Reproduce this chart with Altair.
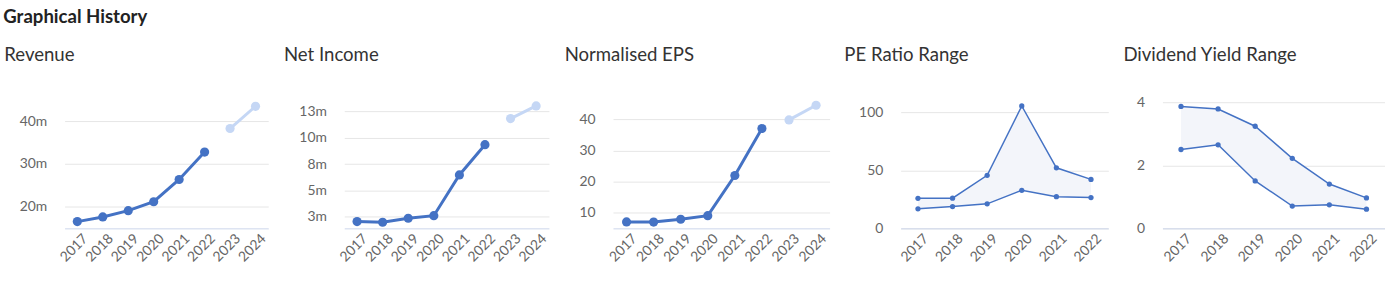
import altair as alt
import pandas as pd

years = ["2017", "2018", "2019", "2020", "2021", "2022", "2023", "2024"]
hist_years = ["2017", "2018", "2019", "2020", "2021", "2022"]

revenue = [16.39, 17.49, 18.97, 21.08, 26.33, 32.8]
revenue_fc = [38.36, 43.6]
net_income = [2.06, 2.0, 2.38, 2.62, 6.49, 9.36]
net_income_fc = [11.84, 13.04]
eps = [7.03, 6.98, 7.9, 9.04, 21.94, 37.03]
eps_fc = [39.8, 44.5]
pe_high = [26.0, 26.1, 45.8, 105.7, 52.3, 42.3]
pe_low = [16.9, 18.8, 21.2, 32.9, 27.4, 26.6]
dy_high = [3.88, 3.80, 3.25, 2.23, 1.41, 0.97]
dy_low = [2.51, 2.66, 1.51, 0.71, 0.75, 0.61]

MAIN = "#4472c4"
LIGHT = "#c5d7f5"
FILL = "#f3f5fa"
FONT = "Lato"
H = 136


def x_enc(cats):
    return alt.X(
        "year:N",
        sort=cats,
        scale=alt.Scale(type="point", padding=0.5, domain=cats),
        axis=alt.Axis(
            title=None, labelAngle=315, labelAlign="right", labelBaseline="middle",
            labelPadding=8, labelOffset=8, ticks=False, grid=False,
            domainColor="#ccd6eb", domainWidth=1, labelFontSize=14,
        ),
    )


def y_axis(ticks, expr, extent):
    return alt.Axis(
        title=None, values=ticks, labelExpr=expr, grid=True, domain=False,
        ticks=False, labelPadding=18, minExtent=extent, maxExtent=extent,
        labelFontSize=14,
    )


def panel_title(text):
    return alt.TitleParams(text, anchor="start", fontSize=18.7, fontWeight="normal",
                           font=FONT, color="#333333", baseline="alphabetic",
                           offset=14, frame="bounds", dx=-1)


def line_panel(title, actual, forecast, domain, ticks, expr, width, extent):
    df = pd.DataFrame({
        "year": years,
        "value": actual + forecast,
        "kind": ["actual"] * len(actual) + ["forecast"] * len(forecast),
    })
    base = alt.Chart(df).encode(
        x=x_enc(years),
        y=alt.Y("value:Q", scale=alt.Scale(domain=domain, nice=False, zero=False),
                axis=y_axis(ticks, expr, extent)),
        color=alt.Color("kind:N", scale=alt.Scale(domain=["actual", "forecast"],
                                                 range=[MAIN, LIGHT]), legend=None),
    )
    return (base.mark_line(strokeWidth=3) + base.mark_circle(size=85, opacity=1)).properties(
        width=width, height=H, title=panel_title(title))


def range_panel(title, high, low, domain, ticks, width, extent):
    df = pd.DataFrame({"year": hist_years, "high": high, "low": low})
    sc = alt.Scale(domain=domain, nice=False, zero=False)
    ax = y_axis(ticks, "datum.label", extent)
    base = alt.Chart(df).encode(x=x_enc(hist_years))
    area = base.mark_area(color=FILL, opacity=1).encode(
        y=alt.Y("low:Q", scale=sc, axis=ax),
        y2="high:Q",
    )
    pt = alt.OverlayMarkDef(filled=True, size=28, color=MAIN, opacity=1)
    hi = base.mark_line(color=MAIN, strokeWidth=1.5, point=pt).encode(
        y=alt.Y("high:Q", scale=sc, axis=ax))
    lo = base.mark_line(color=MAIN, strokeWidth=1.5, point=pt).encode(
        y=alt.Y("low:Q", scale=sc, axis=ax))
    return (area + hi + lo).properties(width=width, height=H, title=panel_title(title))


p1 = line_panel("Revenue", revenue, revenue_fc, [14.79, 46.68], [20, 30, 40],
                "datum.value + 'm'", 205, 59.7)
p2 = line_panel("Net Income", net_income, net_income_fc, [1.415, 14.245],
                [2.5, 5, 7.5, 10, 12.5], "round(datum.value) + 'm'", 206, 59.7)
p3 = line_panel("Normalised EPS", eps, eps_fc, [4.96, 48.36], [10, 20, 30, 40],
                "datum.label", 218, 47.7)
p4 = range_panel("PE Ratio Range", pe_high, pe_low, [0, 116.7], [0, 50, 100], 209, 55.7)
p5 = range_panel("Dividend Yield Range", dy_high, dy_low, [0, 4.30], [0, 2, 4], 224, 38.3)

chart = alt.hconcat(p1, p2, p3, p4, p5, spacing=14.5).properties(
    title=alt.TitleParams("Graphical History", anchor="start", fontSize=18.7,
                          fontWeight="bold", font=FONT, color="#222222",
                          baseline="alphabetic", offset=4, dx=-1),
    padding={"left": 3, "top": 7, "right": 0, "bottom": 0},
    background="white",
).configure_view(stroke=None).configure_axis(
    labelFont=FONT, labelColor="#666666", gridColor="#e6e6e6", gridWidth=1,
).configure_concat(spacing=14.5)

chart.save("out.html", embed_options={"renderer": "svg", "actions": False})
